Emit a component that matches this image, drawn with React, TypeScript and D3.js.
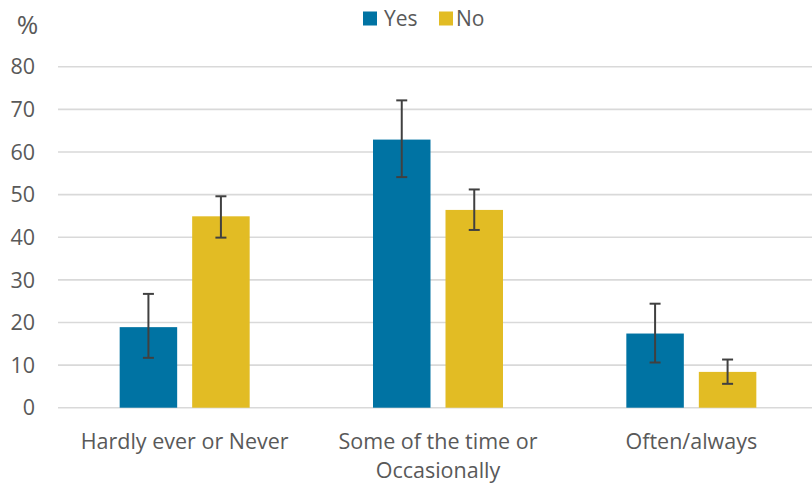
import React from "react";
import * as d3 from "d3";

const categories = ["Hardly ever or Never", "Some of the time or Occasionally", "Often/always"];
const categoryLines = [["Hardly ever or Never"], ["Some of the time or", "Occasionally"], ["Often/always"]];
const seriesNames = ["Yes", "No"];
const yesValues = [18.9, 62.9, 17.4];
const yesLow = [11.7, 54.1, 10.6];
const yesHigh = [26.7, 72.1, 24.4];
const noValues = [44.9, 46.4, 8.4];
const noLow = [39.9, 41.7, 5.6];
const noHigh = [49.6, 51.2, 11.3];
const yTicks = [0, 10, 20, 30, 40, 50, 60, 70, 80];
const colors = ["#0073A3", "#E2BC24"];

export default function App() {
  const W = 812, H = 488;
  const left = 58, right = 818, top = 66.7, bottom = 407.7;
  const x = d3.scaleBand<string>().domain(categories).range([left, right]).paddingInner(0).paddingOuter(0);
  const y = d3.scaleLinear().domain([0, 80]).range([bottom, top]);
  const barW = 57.5, gap = 15;
  const series = [
    { name: seriesNames[0], vals: yesValues, lo: yesLow, hi: yesHigh, color: colors[0] },
    { name: seriesNames[1], vals: noValues, lo: noLow, hi: noHigh, color: colors[1] },
  ];
  const font = "'Open Sans', Lato, sans-serif";
  const textColor = "#595959";
  return (
    <svg width={W} height={H} style={{ position: "absolute", left: 0, top: 0, background: "#fff" }}>
      {yTicks.map((t) => (
        <g key={t}>
          <line x1={left} x2={W} y1={y(t)} y2={y(t)} stroke="#d9d9d9" strokeWidth={1.6} />
          <text x={35} y={y(t)} dy="0.36em" textAnchor="end" fontFamily={font} fontSize={21.5} fill={textColor}>{t}</text>
        </g>
      ))}
      <text x={27.5} y={34} textAnchor="middle" fontFamily={font} fontSize={26} fill={textColor}>%</text>
      {categories.map((c, i) => {
        const cx = x(c)! + x.bandwidth() / 2;
        return (
          <g key={c}>
            {series.map((s, j) => {
              const bx = cx - gap / 2 - barW + j * (barW + gap);
              const mx = bx + barW / 2;
              return (
                <g key={s.name}>
                  <rect x={bx} y={y(s.vals[i])} width={barW} height={y(0) - y(s.vals[i])} fill={s.color} />
                  <line x1={mx} x2={mx} y1={y(s.hi[i])} y2={y(s.lo[i])} stroke="#404040" strokeWidth={2} />
                  <line x1={mx - 5.5} x2={mx + 5.5} y1={y(s.hi[i])} y2={y(s.hi[i])} stroke="#404040" strokeWidth={2} />
                  <line x1={mx - 5.5} x2={mx + 5.5} y1={y(s.lo[i])} y2={y(s.lo[i])} stroke="#404040" strokeWidth={2} />
                </g>
              );
            })}
            {categoryLines[i].map((ln, k) => (
              <text key={k} x={cx} y={449 + k * 29} textAnchor="middle" fontFamily={font} fontSize={21.5} fill={textColor}>{ln}</text>
            ))}
          </g>
        );
      })}
      <g>
        <rect x={363} y={11.5} width={14} height={14} fill={colors[0]} />
        <text x={384} y={25.5} fontFamily={font} fontSize={21} fill={textColor}>{seriesNames[0]}</text>
        <rect x={439} y={11.5} width={14} height={14} fill={colors[1]} />
        <text x={456} y={25.5} fontFamily={font} fontSize={21} fill={textColor}>{seriesNames[1]}</text>
      </g>
    </svg>
  );
}
